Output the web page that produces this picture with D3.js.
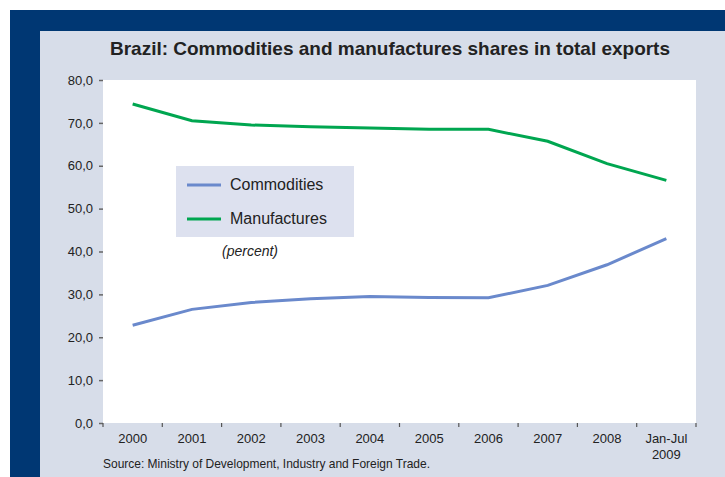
<!DOCTYPE html>
<html>
<head>
<meta charset="utf-8">
<script src="https://cdn.jsdelivr.net/npm/d3@7"></script>
<style>
  body { margin: 0; background: #fff; }
  text { font-family: "Liberation Sans", Arial, sans-serif; fill: #222; }
</style>
</head>
<body>
<svg width="725" height="477"></svg>
<script>
let svg = d3.select("svg")

// data
let years = ["2000", "2001", "2002", "2003", "2004", "2005", "2006", "2007", "2008", "Jan-Jul\n2009"]
let commodities = [22.8, 26.5, 28.1, 29.0, 29.5, 29.3, 29.2, 32.1, 36.9, 43.0]
let manufactures = [74.4, 70.5, 69.5, 69.1, 68.8, 68.5, 68.5, 65.7, 60.5, 56.6]
let yTicks = [0, 10, 20, 30, 40, 50, 60, 70, 80]
let seriesNames = ["Commodities", "Manufactures"]
let colors = ["#6a89cc", "#00a650"]

let plotL = 103, plotR = 696, plotT = 80, plotB = 423

// frame
svg.append("rect").attr("x", 10).attr("y", 10).attr("width", 715).attr("height", 467).attr("fill", "#003773")
svg.append("rect").attr("x", 40).attr("y", 31).attr("width", 685).attr("height", 446).attr("fill", "#d7dde9")
svg.append("rect").attr("x", plotL).attr("y", plotT).attr("width", plotR - plotL).attr("height", plotB - plotT).attr("fill", "#fff")

svg.append("text")
  .attr("x", 390).attr("y", 55)
  .attr("text-anchor", "middle")
  .style("font-size", "19px").style("font-weight", "bold")
  .attr("textLength", 560).attr("lengthAdjust", "spacingAndGlyphs")
  .text("Brazil: Commodities and manufactures shares in total exports")

let x = d3.scaleBand().domain(years).range([plotL, plotR])
let y = d3.scaleLinear().domain([0, 80]).range([plotB, plotT])

// y axis
let fmt = d3.format(".1f")
let yAxisG = svg.append("g").attr("transform", `translate(${plotL},0)`)
  .call(d3.axisLeft(y).tickValues(yTicks).tickSize(4).tickPadding(6).tickFormat(d => fmt(d).replace(".", ",")))
yAxisG.select(".domain").remove()
yAxisG.selectAll(".tick line").attr("stroke", "#666").attr("stroke-width", 1.5)
yAxisG.selectAll(".tick text").style("font-size", "13px").attr("font-family", null)

// x axis ticks at band edges
let edges = years.map(d => x(d)).concat([plotR])
svg.append("g").selectAll("line")
  .data(edges)
  .join("line")
  .attr("x1", d => d).attr("x2", d => d)
  .attr("y1", plotB).attr("y2", plotB + 4)
  .attr("stroke", "#555").attr("stroke-width", 1.2)

svg.append("g").selectAll("text")
  .data(years)
  .join("text")
  .attr("x", d => x(d) + x.bandwidth() / 2)
  .attr("y", 443)
  .attr("text-anchor", "middle")
  .style("font-size", "13px")
  .each(function (d) {
    let lines = d.split("\n")
    d3.select(this).selectAll("tspan")
      .data(lines)
      .join("tspan")
      .attr("x", x(d) + x.bandwidth() / 2)
      .attr("dy", (l, i) => i == 0 ? 0 : 16)
      .text(l => l)
  })

// lines
let line = d3.line()
  .x((d, i) => x(years[i]) + x.bandwidth() / 2)
  .y(d => y(d))

;[commodities, manufactures].forEach((s, i) => {
  svg.append("path")
    .datum(s)
    .attr("d", line)
    .attr("fill", "none")
    .attr("stroke", colors[i])
    .attr("stroke-width", 3)
})

// legend
let lg = svg.append("g")
lg.append("rect").attr("x", 176).attr("y", 166).attr("width", 178).attr("height", 71).attr("fill", "#dde1ef")
seriesNames.forEach((n, i) => {
  let ly = 185 + i * 34
  lg.append("line").attr("x1", 187).attr("x2", 221).attr("y1", ly).attr("y2", ly)
    .attr("stroke", colors[i]).attr("stroke-width", 3)
  lg.append("text").attr("x", 230).attr("y", ly + 5).style("font-size", "16px").text(n)
})

svg.append("text")
  .attr("x", 222).attr("y", 256)
  .style("font-size", "14px").style("font-style", "italic")
  .text("(percent)")

svg.append("text")
  .attr("x", 103).attr("y", 468)
  .style("font-size", "13px")
  .attr("textLength", 327).attr("lengthAdjust", "spacingAndGlyphs")
  .text("Source: Ministry of Development, Industry and Foreign Trade.")
</script>
</body>
</html>
